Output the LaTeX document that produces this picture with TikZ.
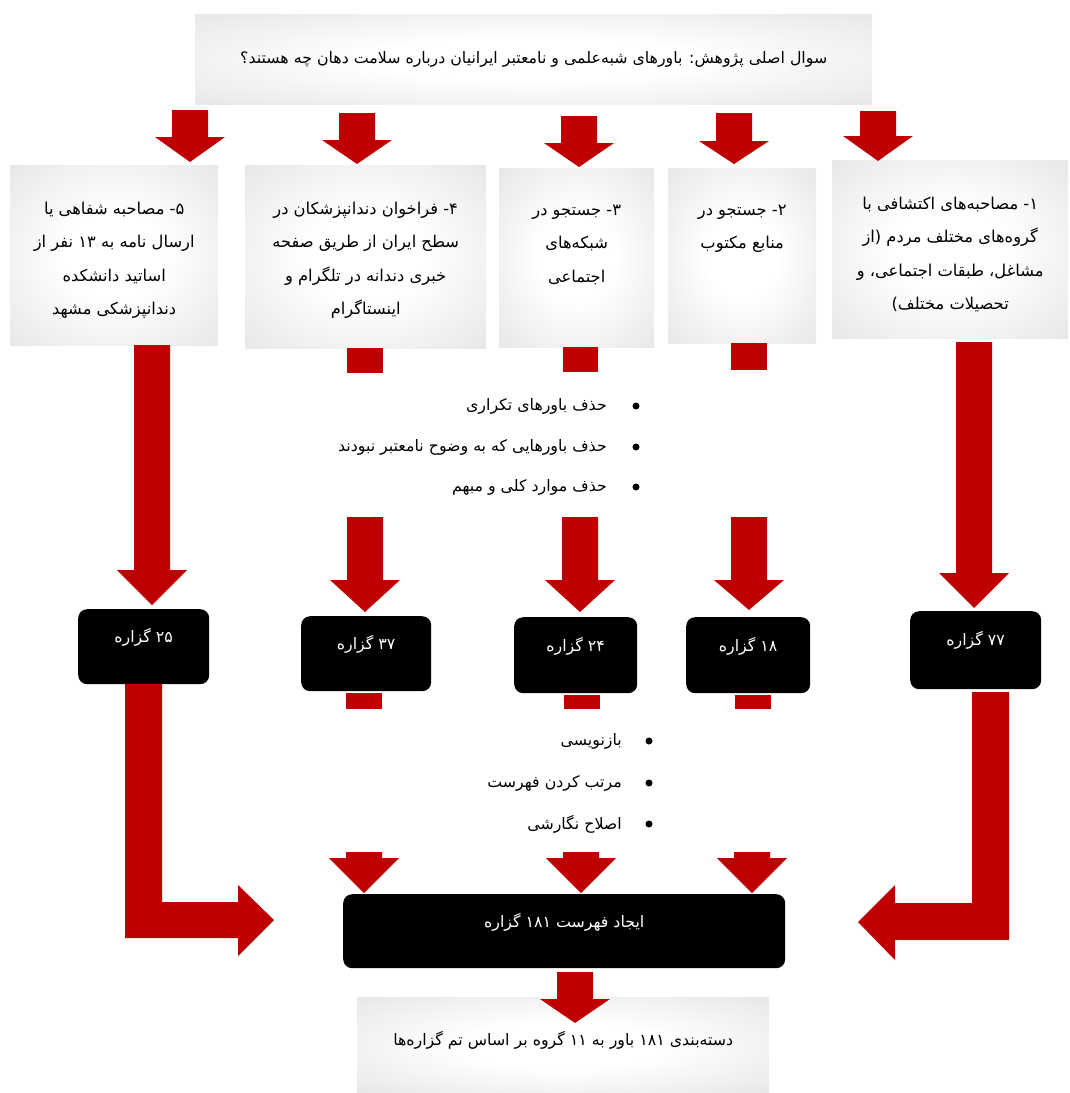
\documentclass[tikz,border=0pt]{standalone}
\usepackage{fontspec}
\newfontfamily\arabicfont[Script=Arabic]{DejaVu Sans}
\TeXXeTstate=1
\newcommand\fa[1]{\beginR #1\endR}
\pgfdeclareradialshading{softgray}{\pgfpoint{0bp}{0bp}}{color(0bp)=(white); color(12bp)=(white);
  color(50bp)=(gray!30); color(100bp)=(gray!30)}
% block arrow pointing down: centre x, top, head base, tip
\newcommand\dnarrow[4]{\fill[arr] (#1-18,#2) -- (#1+18,#2) -- (#1+18,#3) -- (#1+35,#3)
  -- (#1,#4) -- (#1-35,#3) -- (#1-18,#3) -- cycle;}

\begin{document}
\begin{tikzpicture}[x=1pt,y=-1pt,
    arr/.style={fill=red!75!black},
    gbox/.style={rectangle,inner sep=0pt,shading=softgray,anchor=north west},
    gtxt/.style={font=\arabicfont\fontsize{16.3}{33.3}\selectfont,align=center,anchor=north,inner sep=0pt},
    bbox/.style={rectangle,rounded corners=9pt,fill=black,inner sep=0pt,anchor=north west},
    btxt/.style={font=\arabicfont\fontsize{15.8}{18}\selectfont,text=white,inner sep=0pt},
    ltxt/.style={font=\arabicfont\fontsize{15.8}{18}\selectfont,anchor=east,inner sep=0pt},
    dot/.style={circle,fill=black,inner sep=0pt,minimum size=7pt}]
  \useasboundingbox (0,0) rectangle (1069,1093);

  % question
  \node[gbox,minimum width=677pt,minimum height=90pt] (q) at (195,14) {};
  \node[font=\arabicfont\fontsize{15.8}{18}\selectfont,inner sep=0pt] (qt) at (q.center)
    {\fa{سوال اصلی پژوهش: باورهای شبه‌علمی و نامعتبر ایرانیان درباره سلامت دهان چه هستند؟}};

  % sources
  \node[gbox,minimum width=208pt,minimum height=180pt] (s5) at (10,165) {};
  \node[gbox,minimum width=241pt,minimum height=183pt] (s4) at (245,165) {};
  \node[gbox,minimum width=155pt,minimum height=179pt] (s3) at (499,168) {};
  \node[gbox,minimum width=148pt,minimum height=175pt] (s2) at (668,168) {};
  \node[gbox,minimum width=236pt,minimum height=178pt] (s1) at (832,160) {};

  \node[gtxt] (t5) at ([yshift=-37pt]s5.north) {\fa{۵- مصاحبه شفاهی یا}\\ \fa{ارسال نامه به ۱۳ نفر از}\\
    \fa{اساتید دانشکده}\\ \fa{دندانپزشکی مشهد}};
  \node[gtxt] (t4) at ([yshift=-37pt]s4.north) {\fa{۴- فراخوان دندانپزشکان در}\\ \fa{سطح ایران از طریق صفحه}\\
    \fa{خبری دندانه در تلگرام و}\\ \fa{اینستاگرام}};
  \node[gtxt] (t3) at ([yshift=-37pt]s3.north) {\fa{۳- جستجو در}\\ \fa{شبکه‌های}\\ \fa{اجتماعی}};
  \node[gtxt] (t2) at ([yshift=-37pt]s2.north) {\fa{۲- جستجو در}\\ \fa{منابع مکتوب}};
  \node[gtxt] (t1) at ([yshift=-37pt]s1.north) {\fa{۱- مصاحبه‌های اکتشافی با}\\ \fa{گروه‌های مختلف مردم (از}\\
    \fa{مشاغل، طبقات اجتماعی، و}\\ \fa{تحصیلات مختلف)}};

  \dnarrow{190}{110}{137}{162}
  \dnarrow{357}{113}{140}{164}
  \dnarrow{579}{116}{143}{167}
  \dnarrow{734}{113}{141}{164}
  \dnarrow{878}{111}{136}{161}

  \fill[arr] (347,348) rectangle (383,373);
  \fill[arr] (563,347) rectangle (598,372);
  \fill[arr] (731,343) rectangle (767,370);

  % first filtering
  \node[dot] (d1) at (636,406) {};
  \node[dot] (d2) at (636,447) {};
  \node[dot] (d3) at (636,487) {};
  \node[ltxt] (f1) at (607,406) {\fa{حذف باورهای تکراری}};
  \node[ltxt] (f2) at (607,447) {\fa{حذف باورهایی که به وضوح نامعتبر نبودند}};
  \node[ltxt] (f3) at (607,487) {\fa{حذف موارد کلی و مبهم}};

  \dnarrow{152}{345}{570}{605}
  \dnarrow{365}{517}{580}{612}
  \dnarrow{580}{517}{580}{612}
  \dnarrow{749}{517}{580}{610}
  \dnarrow{974}{342}{573}{608}

  % counts
  \node[bbox,minimum width=131pt,minimum height=75pt] (n5) at (78,609) {};
  \node[bbox,minimum width=130pt,minimum height=75pt] (n4) at (301,616) {};
  \node[bbox,minimum width=123pt,minimum height=76pt] (n3) at (514,617) {};
  \node[bbox,minimum width=124pt,minimum height=76pt] (n2) at (686,617) {};
  \node[bbox,minimum width=131pt,minimum height=78pt] (n1) at (910,611) {};
  \node[btxt] at ([yshift=-28pt]n5.north) {\fa{۲۵ گزاره}};
  \node[btxt] at ([yshift=-28pt]n4.north) {\fa{۳۷ گزاره}};
  \node[btxt] at ([yshift=-29pt]n3.north) {\fa{۲۴ گزاره}};
  \node[btxt] at ([yshift=-29pt]n2.north) {\fa{۱۸ گزاره}};
  \node[btxt] at ([yshift=-29pt]n1.north) {\fa{۷۷ گزاره}};

  \fill[arr] (346,693) rectangle (382,709);
  \fill[arr] (564,695) rectangle (600,709);
  \fill[arr] (735,695) rectangle (771,709);

  % second editing
  \node[dot] (e1) at (649,741) {};
  \node[dot] (e2) at (649,783) {};
  \node[dot] (e3) at (649,824) {};
  \node[ltxt] (g1) at (622,741) {\fa{بازنویسی}};
  \node[ltxt] (g2) at (622,783) {\fa{مرتب کردن فهرست}};
  \node[ltxt] (g3) at (622,824) {\fa{اصلاح نگارشی}};

  \fill[arr] (125,684) -- (162,684) -- (162,902) -- (238,902) -- (238,885) -- (274,920)
    -- (238,956) -- (238,938) -- (125,938) -- cycle;
  \fill[arr] (1009,692) -- (972,692) -- (972,903) -- (895,903) -- (895,885) -- (858,922)
    -- (895,960) -- (895,940) -- (1009,940) -- cycle;

  \dnarrow{364}{852}{858}{893}
  \dnarrow{581}{852}{858}{893}
  \dnarrow{752}{852}{858}{893}

  % final list
  \node[bbox,minimum width=442pt,minimum height=74pt] (all) at (343,894) {};
  \node[btxt] at ([yshift=-28pt]all.north) {\fa{ایجاد فهرست ۱۸۱ گزاره}};

  \node[gbox,minimum width=412pt,minimum height=96pt] (cat) at (357,997) {};
  \node[font=\arabicfont\fontsize{15.8}{18}\selectfont,inner sep=0pt] at ([yshift=-43pt]cat.north)
    {\fa{دسته‌بندی ۱۸۱ باور به ۱۱ گروه بر اساس تم گزاره‌ها}};
  \dnarrow{575}{972}{999}{1023}
\end{tikzpicture}
\end{document}
